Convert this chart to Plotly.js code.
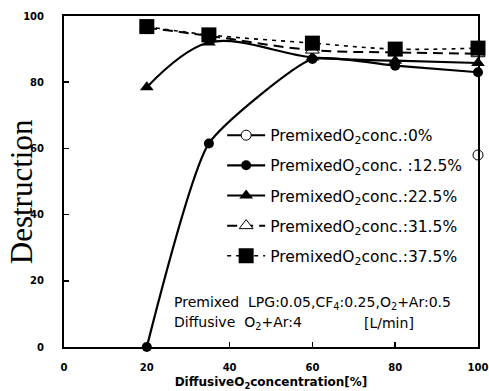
<!DOCTYPE html>
<html>
<head>
<meta charset="utf-8">
<script src="https://cdn.plot.ly/plotly-3.0.1.min.js"></script>
<style>html,body{margin:0;padding:0;background:#fff;}#chart{width:489px;height:391px;}</style>
</head>
<body>
<div id="chart"></div>
<script>
// Data
const diffusiveO2 = [20, 35, 60, 80, 100];
const x0 = [100];
const d0 = [58];
const d125 = [0, 61.5, 87, 85, 83];
const d225 = [78.5, 92, 87.5, 86.5, 85.8];
const d315 = [96.5, 94, 89.7, 89, 88.6];
const d375 = [96.8, 94.3, 91.8, 90, 90.3];
const seriesNames = [
  'PremixedO<sub>2</sub>conc.:0%',
  'PremixedO<sub>2</sub>conc. :12.5%',
  'PremixedO<sub>2</sub>conc.:22.5%',
  'PremixedO<sub>2</sub>conc.:31.5%',
  'PremixedO<sub>2</sub>conc.:37.5%'
];
const xTicks = [0, 20, 40, 60, 80, 100];
const yTicks = [0, 20, 40, 60, 80, 100];

const common = {type: 'scatter', mode: 'lines+markers', cliponaxis: false};
const traces = [
  Object.assign({}, common, {x: x0, y: d0, name: seriesNames[0], legendgroup: 'a',
    line: {color: '#000', width: 2},
    marker: {symbol: 'circle', size: 10, color: '#fff', line: {color: '#000', width: 1}}}),
  Object.assign({}, common, {x: diffusiveO2, y: d125, name: seriesNames[1], legendgroup: 'b',
    line: {color: '#000', width: 2.2, shape: 'spline', smoothing: 0.5},
    marker: {symbol: 'circle', size: 10, color: '#000'}}),
  Object.assign({}, common, {x: diffusiveO2, y: d225, name: seriesNames[2], legendgroup: 'c',
    line: {color: '#000', width: 2.2, shape: 'spline', smoothing: 1},
    marker: {symbol: 'triangle-up', size: 12, color: '#000'}}),
  Object.assign({}, common, {x: diffusiveO2, y: d315, name: seriesNames[3], legendgroup: 'd',
    line: {color: '#000', width: 2, dash: '10px,6px', shape: 'spline', smoothing: 1},
    marker: {symbol: 'triangle-up', size: 12, color: '#fff', line: {color: '#000', width: 1}}}),
  Object.assign({}, common, {x: diffusiveO2, y: d375, name: seriesNames[4], legendgroup: 'e',
    line: {color: '#000', width: 1.6, dash: '4px,5px', shape: 'spline', smoothing: 1},
    marker: {symbol: 'square', size: 15, color: '#000'}})
];

const tickFont = {family: 'DejaVu Sans', size: 10, color: '#000', weight: 'bold'};
const legFont = {family: 'DejaVu Sans', size: 15.5, color: '#000'};
const txtFont = {family: 'DejaVu Sans', size: 14, color: '#000'};

const layout = {
  width: 489, height: 391,
  margin: {l: 64, r: 11, t: 16, b: 44},
  paper_bgcolor: '#fff', plot_bgcolor: '#fff',
  showlegend: true,
  legend: {x: 0.382, y: 0.69, xanchor: 'left', yanchor: 'top', bgcolor: 'rgba(0,0,0,0)',
    font: legFont, tracegroupgap: 7, itemwidth: 38},
  xaxis: {range: [0, 100], tickvals: xTicks, ticktext: xTicks.map(String),
    ticks: 'inside', ticklen: 5, tickwidth: 1.5, tickcolor: '#000',
    showline: true, linewidth: 2, linecolor: '#000', mirror: true,
    showgrid: false, zeroline: false, tickfont: tickFont, ticklabelstandoff: 10,
    title: {text: 'DiffusiveO<sub>2</sub>concentration[%]', font: {family: 'DejaVu Sans', size: 12, color: '#000', weight: 'bold'}, standoff: 6}},
  yaxis: {range: [0, 100], tickvals: yTicks, ticktext: yTicks.map(String),
    ticks: 'inside', ticklen: 5, tickwidth: 1.5, tickcolor: '#000',
    showline: true, linewidth: 2, linecolor: '#000', mirror: true,
    showgrid: false, zeroline: false, tickfont: tickFont, ticklabelstandoff: 16},
  annotations: [
    {xref: 'paper', yref: 'paper', x: -0.102, y: 0.47, xanchor: 'center', yanchor: 'middle',
      text: 'Destruction', textangle: -90,
      showarrow: false, font: {family: 'Liberation Serif', size: 31, color: '#000'}},
    {xref: 'x', yref: 'y', x: 26, y: 13.3, xanchor: 'left', text: 'Premixed  LPG:0.05,CF<sub>4</sub>:0.25,O<sub>2</sub>+Ar:0.5',
      showarrow: false, font: txtFont},
    {xref: 'x', yref: 'y', x: 26, y: 7.3, xanchor: 'left', text: 'Diffusive  O<sub>2</sub>+Ar:4',
      showarrow: false, font: txtFont},
    {xref: 'x', yref: 'y', x: 72, y: 7.3, xanchor: 'left', text: '[L/min]',
      showarrow: false, font: txtFont}
  ]
};

Plotly.newPlot('chart', traces, layout, {displayModeBar: false, staticPlot: true});
</script>
</body>
</html>
